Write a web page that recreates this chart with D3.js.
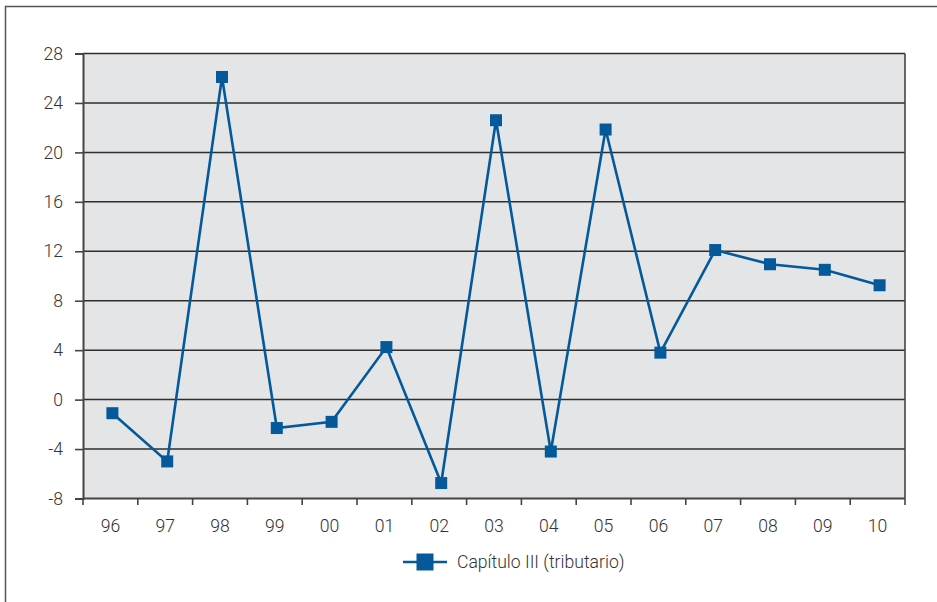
<!DOCTYPE html>
<html>
<head>
<meta charset="utf-8">
<script src="https://cdn.jsdelivr.net/npm/d3@7"></script>
<style>
  html, body { margin: 0; padding: 0; background: #fff; }
  svg { display: block; }
  text { font-family: Roboto, "Liberation Sans", Arial, sans-serif; font-weight: 300; fill: #333; }
</style>
</head>
<body>
<svg id="chart" width="937" height="602"></svg>
<script>
const categories = ["96","97","98","99","00","01","02","03","04","05","06","07","08","09","10"];
const values = [-1.1, -5.0, 26.1, -2.3, -1.8, 4.25, -6.75, 22.6, -4.2, 21.85, 3.8, 12.1, 10.95, 10.5, 9.25];
const yTicks = [-8, -4, 0, 4, 8, 12, 16, 20, 24, 28];
const seriesName = "Capítulo III (tributario)";

const svg = d3.select("#chart");
const pLeft = 83, pRight = 905, pTop = 53.5, pBottom = 498.5;
const color = "#04599a";
const fontFam = "Roboto, 'Liberation Sans', Arial, sans-serif";
const fs = 17.6;

// outer frame
svg.append("rect").attr("x", 5.5).attr("y", 6.5).attr("width", 1000).attr("height", 1000)
  .attr("fill", "none").attr("stroke", "#555").attr("stroke-width", 1.5);

const x = d3.scaleBand().domain(categories).range([pLeft, pRight]).padding(0);
const y = d3.scaleLinear().domain([-8, 28]).range([pBottom, pTop]);

// plot background
svg.append("rect").attr("x", pLeft).attr("y", pTop).attr("width", pRight - pLeft).attr("height", pBottom - pTop)
  .attr("fill", "#e4e5e7");

// gridlines
svg.append("g").selectAll("line").data(yTicks.filter(d => d > -8)).join("line")
  .attr("x1", pLeft).attr("x2", pRight)
  .attr("y1", d => y(d)).attr("y2", d => y(d))
  .attr("stroke", "#2e2e2e").attr("stroke-width", 1.5);

// right border
svg.append("line").attr("x1", pRight).attr("x2", pRight).attr("y1", pTop).attr("y2", pBottom)
  .attr("stroke", "#444").attr("stroke-width", 1.6);

// y axis
const yAxis = svg.append("g").attr("transform", `translate(${pLeft},0)`)
  .call(d3.axisLeft(y).tickValues(yTicks).tickSize(8).tickPadding(12).tickFormat(d => String(d)));
yAxis.select(".domain").attr("stroke", "#444").attr("stroke-width", 2);
yAxis.selectAll(".tick line").attr("stroke", "#444").attr("stroke-width", 1.6);
yAxis.selectAll(".tick text").attr("font-size", fs).attr("fill", "#333")
  .style("font-family", fontFam).style("font-weight", 300);

// x axis
const xAxis = svg.append("g").attr("transform", `translate(0,${pBottom})`)
  .call(d3.axisBottom(x).tickSize(0).tickPadding(21));
xAxis.select(".domain").remove();
xAxis.selectAll(".tick text").attr("font-size", fs).attr("fill", "#333")
  .style("font-family", fontFam).style("font-weight", 300);
svg.append("line").attr("x1", pLeft).attr("x2", pRight).attr("y1", pBottom).attr("y2", pBottom)
  .attr("stroke", "#444").attr("stroke-width", 2);
// boundary ticks
const bounds = categories.map(c => x(c)).concat([x(categories[categories.length - 1]) + x.bandwidth()]);
svg.append("g").selectAll("line").data(bounds).join("line")
  .attr("x1", d => d).attr("x2", d => d).attr("y1", pBottom).attr("y2", pBottom + 6.5)
  .attr("stroke", "#444").attr("stroke-width", 1.6);

// series
const px = c => x(c) + x.bandwidth() / 2 + 2;
const data = categories.map((c, i) => ({c, v: values[i]}));
svg.append("path").datum(data)
  .attr("d", d3.line().x(d => px(d.c)).y(d => y(d.v)))
  .attr("fill", "none").attr("stroke", color).attr("stroke-width", 2.6).attr("stroke-linejoin", "miter");
const ms = 12;
svg.append("g").selectAll("rect").data(data).join("rect")
  .attr("x", d => px(d.c) - ms / 2).attr("y", d => y(d.v) - ms / 2)
  .attr("width", ms).attr("height", ms).attr("fill", color);

// legend
const lg = svg.append("g");
const ly = 562;
lg.append("line").attr("x1", 403).attr("x2", 447).attr("y1", ly).attr("y2", ly)
  .attr("stroke", color).attr("stroke-width", 2.6);
lg.append("rect").attr("x", 425 - 8.5).attr("y", ly - 8.5).attr("width", 17).attr("height", 17).attr("fill", color);
lg.append("text").attr("x", 457).attr("y", ly + 6).attr("font-size", fs).text(seriesName);
</script>
</body>
</html>
